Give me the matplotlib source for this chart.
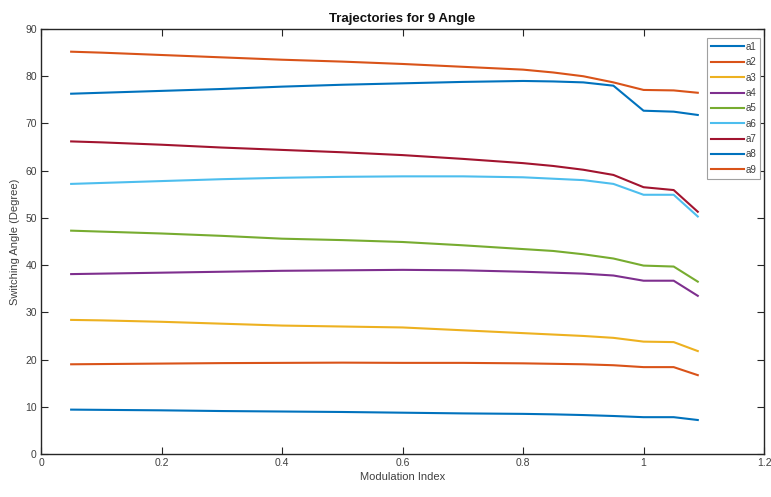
import numpy as np
import matplotlib
matplotlib.use('Agg')
import matplotlib.pyplot as plt

plt.rcParams['font.family'] = ['Liberation Sans', 'DejaVu Sans']

# modulation index samples
m = [0.05, 0.1, 0.2, 0.3, 0.4, 0.5, 0.6, 0.7, 0.8, 0.85, 0.9, 0.95, 1.0, 1.05, 1.09]

# switching angles (degree)
a1 = [9.4, 9.35, 9.25, 9.1, 9.0, 8.9, 8.75, 8.6, 8.5, 8.4, 8.25, 8.05, 7.8, 7.8, 7.2]
a2 = [19.0, 19.05, 19.15, 19.25, 19.3, 19.35, 19.3, 19.3, 19.2, 19.1, 19.0, 18.8, 18.4, 18.4, 16.7]
a3 = [28.4, 28.3, 28.0, 27.6, 27.2, 27.0, 26.8, 26.2, 25.6, 25.3, 25.0, 24.6, 23.8, 23.7, 21.8]
a4 = [38.1, 38.2, 38.4, 38.6, 38.8, 38.9, 39.0, 38.9, 38.6, 38.4, 38.2, 37.8, 36.7, 36.7, 33.5]
a5 = [47.3, 47.1, 46.7, 46.2, 45.6, 45.3, 44.9, 44.2, 43.4, 43.0, 42.3, 41.4, 39.9, 39.7, 36.5]
a6 = [57.2, 57.4, 57.8, 58.2, 58.5, 58.7, 58.8, 58.8, 58.6, 58.3, 58.0, 57.2, 54.9, 54.9, 50.3]
a7 = [66.2, 66.0, 65.5, 64.9, 64.4, 63.9, 63.3, 62.5, 61.6, 61.0, 60.2, 59.1, 56.5, 55.9, 51.3]
a8 = [76.3, 76.5, 76.9, 77.3, 77.8, 78.2, 78.5, 78.8, 79.0, 78.9, 78.7, 78.0, 72.7, 72.5, 71.8]
a9 = [85.2, 85.0, 84.5, 84.0, 83.5, 83.1, 82.6, 82.0, 81.4, 80.8, 80.0, 78.7, 77.1, 77.0, 76.5]

series = [a1, a2, a3, a4, a5, a6, a7, a8, a9]
names = ['a1', 'a2', 'a3', 'a4', 'a5', 'a6', 'a7', 'a8', 'a9']
colors = ['#0072BD', '#D95319', '#EDB120', '#7E2F8E', '#77AC30',
          '#4DBEEE', '#A2142F', '#0072BD', '#D95319']

fig = plt.figure(figsize=(7.71, 4.97), dpi=100)
ax = fig.add_axes([0.0532, 0.0865, 0.9378, 0.8551])

for vals, name, c in zip(series, names, colors):
    ax.plot(m, vals, color=c, linewidth=1.5, label=name)

ax.set_xlim(0, 1.2)
ax.set_ylim(0, 90)
ax.set_xticks(np.arange(0, 1.21, 0.2))
ax.set_xticklabels(['0', '0.2', '0.4', '0.6', '0.8', '1', '1.2'])
ax.set_yticks(np.arange(0, 91, 10))

for s in ax.spines.values():
    s.set_color('#262626')
    s.set_linewidth(1.0)
ax.tick_params(direction='in', top=True, right=True, length=5, width=0.8,
               colors='#262626', labelcolor='#404040', labelsize=7.5, pad=3)

ax.set_title('Trajectories for 9 Angle', fontsize=9.5, fontweight='bold', color='#111111', pad=5)
ax.set_xlabel('Modulation Index', fontsize=8, color='#404040', labelpad=3)
ax.set_ylabel('Switching Angle (Degree)', fontsize=8, color='#404040', labelpad=4)

leg = ax.legend(loc='upper right', bbox_to_anchor=(0.995, 0.98), fontsize=7,
                handlelength=3.4, handletextpad=0.1, labelspacing=0.55,
                borderpad=0.45, borderaxespad=0, fancybox=False, framealpha=1)
leg.get_frame().set_edgecolor('#a0a0a0')
leg.get_frame().set_linewidth(0.8)
for t in leg.get_texts():
    t.set_color('#404040')

fig.savefig('out.png', dpi=100)
